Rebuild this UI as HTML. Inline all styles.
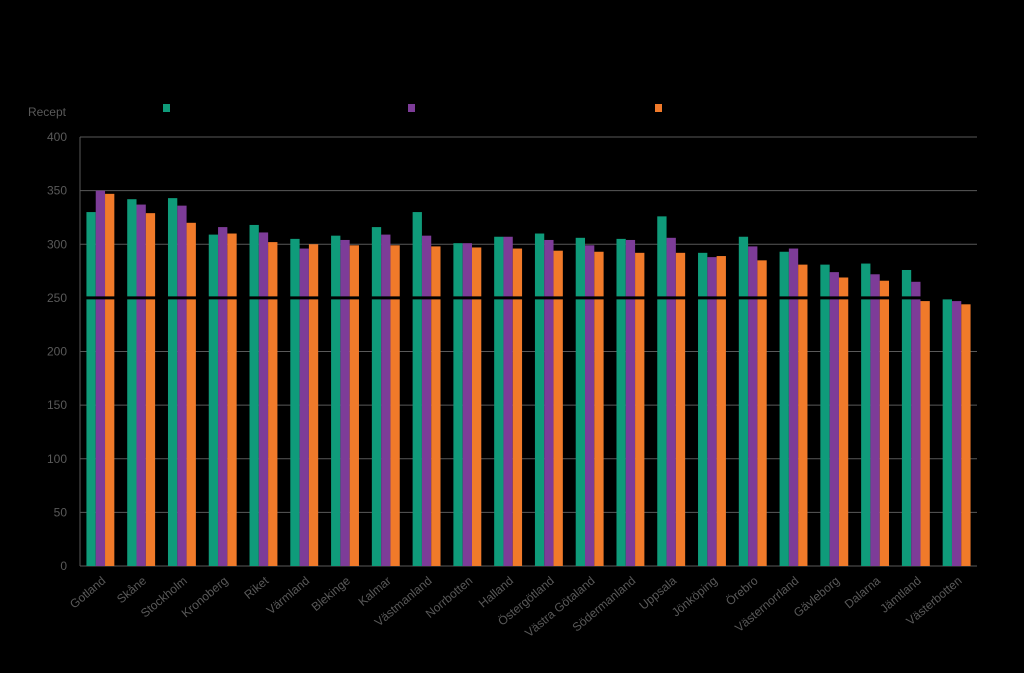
<!DOCTYPE html>
<html><head><meta charset="utf-8"><style>
body{margin:0;background:#000;}
svg{display:block;font-family:"Liberation Sans",sans-serif;}
</style></head><body>
<svg id="c" width="1024" height="673"></svg>
<script>
const categories=["Gotland","Skåne","Stockholm","Kronoberg","Riket","Värmland","Blekinge","Kalmar","Västmanland","Norrbotten","Halland","Östergötland","Västra Götaland","Södermanland","Uppsala","Jönköping","Örebro","Västernorrland","Gävleborg","Dalarna","Jämtland","Västerbotten"];
const seriesA=[330,342,343,309,318,305,308,316,330,301,307,310,306,305,326,292,307,293,281,282,276,249];
const seriesB=[350,337,336,316,311,296,304,309,308,301,307,304,299,304,306,288,298,296,274,272,265,247];
const seriesC=[347,329,320,310,302,300,299,299,298,297,296,294,293,292,292,289,285,281,269,266,247,244];
const yTicks=[0,50,100,150,200,250,300,350,400];
const targetValue=250;
const colors=["#0f9b7a","#7d3c98","#f07a2a"];
const NS="http://www.w3.org/2000/svg";
const svg=document.getElementById('c');
const x0=80,x1=977,y0=566,y1=137,yMax=400;
const y=v=>y0-(v/yMax)*(y0-y1);
const bw=(x1-x0)/categories.length;
const xg=i=>x0+i*bw;
function mk(t,a){const e=document.createElementNS(NS,t);for(const k in a)e.setAttribute(k,a[k]);svg.appendChild(e);return e;}
yTicks.forEach(t=>{
 if(t>0&&t!==targetValue){const l=mk('line',{x1:x0,x2:x1,y1:y(t),y2:y(t),stroke:'#595959','stroke-width':1});
 
 }
 const tx=mk('text',{x:67,y:y(t)+4,'text-anchor':'end','font-size':12,fill:'#595959'});
 tx.textContent=t;
 
 
});
const ax=mk('line',{x1:x0,x2:x0,y1:y1,y2:y0,stroke:'#595959'});


const bx=mk('line',{x1:x0,x2:x1,y1:y0,y2:y0,stroke:'#595959'});


const yt=mk('text',{x:66,y:116,'text-anchor':'end','font-size':12,fill:'#595959'});
yt.textContent='Recept';


const series=[seriesA,seriesB,seriesC];
const barW=9.3;
categories.forEach((c,i)=>{
 const start=xg(i)+(bw-3*barW)/2;
 series.forEach((s,j)=>{
  const r=mk('rect',{x:start+j*barW,y:y(s[i]),width:barW,height:y0-y(s[i]),fill:colors[j]});
  
  
 });
 const cx=xg(i)+bw/2+6;
 const t=mk('text',{x:cx,y:y0+16,'text-anchor':'end','font-size':12,fill:'#595959',transform:`rotate(-40 ${cx} ${y0+16})`});
 t.textContent=c;
 
 
});
const tl=mk('line',{x1:x0+5,x2:x1,y1:y(targetValue),y2:y(targetValue),stroke:'#000','stroke-width':3});


[166,411,658].forEach((lx,j)=>{
 const r=mk('rect',{x:lx-3,y:104,width:7,height:8,fill:colors[j]});
 
 
});
</script>
</body></html>
